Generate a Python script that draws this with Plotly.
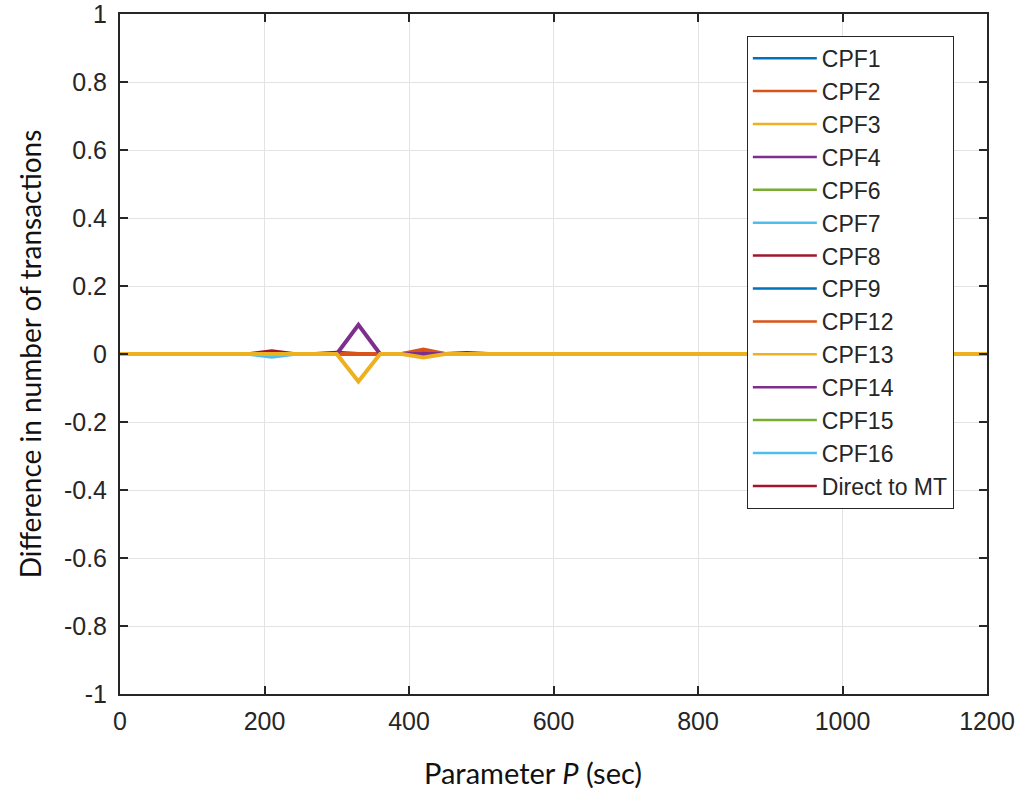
import plotly.graph_objects as go

# ---- data ----
x_sec = list(range(0, 1201, 30))

names = ["CPF1", "CPF2", "CPF3", "CPF4", "CPF6", "CPF7", "CPF8", "CPF9",
         "CPF12", "CPF13", "CPF14", "CPF15", "CPF16", "Direct to MT"]
colors = ["#0072BD", "#D95319", "#EDB120", "#7E2F8E", "#77AC30", "#4DBEEE", "#A2142F",
          "#0072BD", "#D95319", "#EDB120", "#7E2F8E", "#77AC30", "#4DBEEE", "#A2142F"]

# non-zero values per series (x -> value), everything else 0
nonzero = {
    "CPF4": {330: 0.086},
    "CPF13": {330: -0.081, 420: -0.01},
    "CPF12": {420: 0.013},
    "CPF9": {420: 0.005},
    "Direct to MT": {210: 0.008, 300: 0.004, 480: 0.003},
    "CPF16": {210: -0.008},
}

def series(name):
    d = nonzero.get(name, {})
    return [d.get(x, 0.0) for x in x_sec]

yvals = ["1", "0.8", "0.6", "0.4", "0.2", "0", "-0.2", "-0.4", "-0.6", "-0.8", "-1"]
ytickv = [1, 0.8, 0.6, 0.4, 0.2, 0, -0.2, -0.4, -0.6, -0.8, -1]
xtickv = [0, 200, 400, 600, 800, 1000, 1200]

# drawing order so that the yellow line ends on top (as in the reference)
draw_order = ["CPF1", "CPF2", "CPF3", "CPF6", "CPF7", "CPF8", "CPF9", "CPF14", "CPF15",
              "CPF16", "Direct to MT", "CPF12", "CPF4", "CPF13"]

fig = go.Figure()
for nm in draw_order:
    c = colors[names.index(nm)]
    fig.add_trace(go.Scatter(x=x_sec, y=series(nm), mode="lines", name=nm,
                             line=dict(color=c, width=4), showlegend=False))
# legend entries (legend order)
for nm, c in zip(names, colors):
    fig.add_trace(go.Scatter(x=[None], y=[None], mode="lines", name=nm,
                             line=dict(color=c, width=2.5), showlegend=True))

axis_common = dict(showline=True, linecolor="#262626", linewidth=2, mirror="ticks",
                   ticks="inside", ticklen=8, tickcolor="#262626", tickwidth=1.5,
                   showgrid=True, gridcolor="#E3E3E3", gridwidth=1, zeroline=False,
                   automargin=False, ticklabeloverflow="allow",
                   tickfont=dict(family="Liberation Sans, Arial", size=25, color="#262626"))

fig.update_xaxes(range=[0, 1200], tickvals=xtickv, ticktext=[str(v) for v in xtickv],
                 ticklabelstandoff=4, **axis_common)
fig.update_yaxes(range=[-1, 1], tickvals=ytickv, ticktext=yvals,
                 title=dict(text="Difference in number of transactions", standoff=14,
                            font=dict(family="Lato", size=28, color="#111")),
                 ticklabelstandoff=6,
                 **axis_common)

fig.add_annotation(text="Parameter <i>P</i> (sec)", xref="paper", yref="paper",
                   x=0.476, y=-0.116, xanchor="center", yanchor="middle", showarrow=False,
                   font=dict(family="Lato", size=29, color="#111"))

fig.update_layout(
    width=1018, height=790,
    margin=dict(l=120, r=31, t=14, b=96),
    plot_bgcolor="white", paper_bgcolor="white",
    legend=dict(x=0.723, y=0.968, xanchor="left", yanchor="top",
                bgcolor="white", bordercolor="#262626", borderwidth=1,
                font=dict(family="Liberation Sans, Arial", size=23, color="#262626"),
                tracegroupgap=0, itemwidth=64),
)

fig.write_html("out.html")
